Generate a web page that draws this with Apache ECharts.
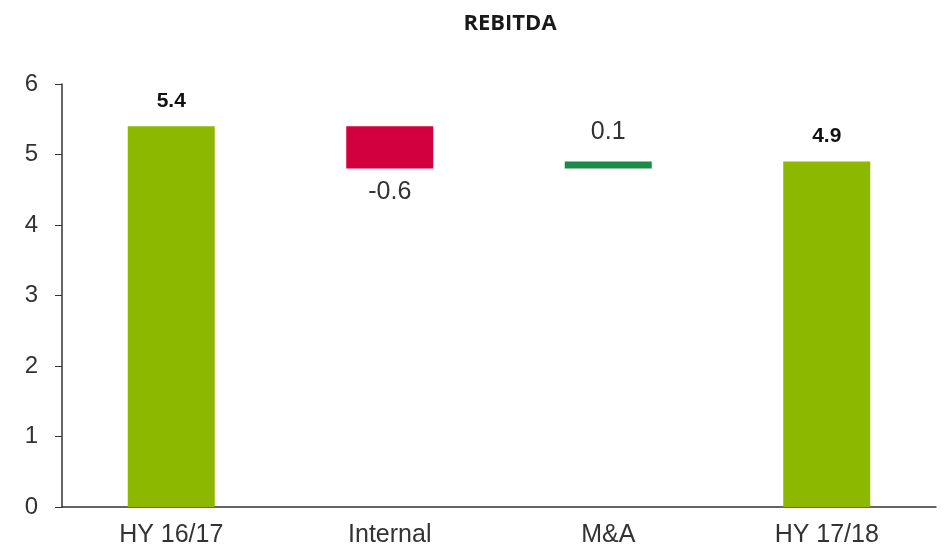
<!DOCTYPE html>
<html>
<head>
<meta charset="utf-8">
<script src="https://cdn.jsdelivr.net/npm/echarts@6/dist/echarts.min.js"></script>
<style>html,body{margin:0;padding:0;background:#fff;}#c{width:951px;height:553px;}</style>
</head>
<body>
<div id="c"></div>
<script>
var categories = ['HY 16/17', 'Internal', 'M&A', 'HY 17/18'];
var values = [5.4, -0.6, 0.1, 4.9];
var kinds = ['total', 'delta', 'delta', 'total'];
var yTicks = [0, 1, 2, 3, 4, 5, 6];

var colors = { total: '#8cb800', neg: '#d2003c', pos: '#1c8a48' };
var FONT = '"Liberation Sans", Arial, sans-serif';

var base = [], heights = [], running = 0;
for (var i = 0; i < values.length; i++) {
  if (kinds[i] === 'total') { base.push(0); heights.push(values[i]); running = values[i]; }
  else {
    var next = running + values[i];
    base.push(Math.min(running, next));
    heights.push(Math.abs(values[i]));
    running = next;
  }
}

var barData = values.map(function (v, i) {
  var isTotal = kinds[i] === 'total';
  var col = isTotal ? colors.total : (v < 0 ? colors.neg : colors.pos);
  return {
    value: heights[i],
    itemStyle: { color: col },
    label: {
      show: true,
      formatter: v.toFixed(1),
      position: (v < 0 ? 'bottom' : 'top'),
      distance: isTotal ? 15 : (v < 0 ? 11 : 17),
      fontWeight: isTotal ? 'bold' : 'normal',
      fontSize: isTotal ? 21 : 25,
      color: isTotal ? '#111' : '#333',
      fontFamily: FONT
    }
  };
});

var chart = echarts.init(document.getElementById('c'));
chart.setOption({
  animation: false,
  title: {
    text: 'REBITDA', left: 505, top: 8, textAlign: 'center',
    textStyle: { fontSize: 22, fontWeight: 'bold', color: '#1a1a1a', fontFamily: '"Open Sans", "DejaVu Sans", sans-serif' }
  },
  grid: { left: 62, right: 15, top: 84, bottom: 46 },
  xAxis: {
    type: 'category', data: categories,
    axisLine: { lineStyle: { color: '#333', width: 1.5 } },
    axisTick: { show: false },
    axisLabel: { fontSize: 25, color: '#333', margin: 16, fontFamily: FONT }
  },
  yAxis: {
    type: 'value', min: yTicks[0], max: yTicks[yTicks.length - 1], interval: 1,
    splitLine: { show: false },
    axisLine: { show: true, lineStyle: { color: '#333', width: 1.5 } },
    axisTick: { show: true, length: 7, lineStyle: { color: '#333' } },
    axisLabel: { fontSize: 24, color: '#333', margin: 24, fontFamily: FONT }
  },
  series: [
    { type: 'bar', stack: 'w', data: base, barWidth: 87, itemStyle: { color: 'transparent' }, silent: true },
    { type: 'bar', stack: 'w', data: barData, barWidth: 87 }
  ]
});
</script>
</body>
</html>
